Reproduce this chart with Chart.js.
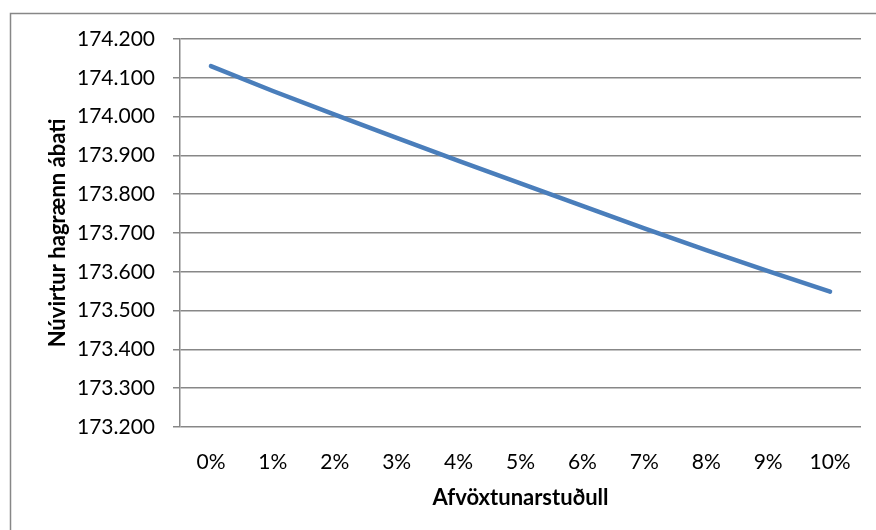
<!DOCTYPE html>
<html>
<head>
<meta charset="utf-8">
<style>
  html, body { margin: 0; padding: 0; background: #ffffff; }
  #wrap { width: 876px; height: 530px; position: relative; }
</style>
<script src="https://cdn.jsdelivr.net/npm/chart.js@4/dist/chart.umd.min.js"></script>
</head>
<body>
<div id="wrap"><canvas id="chart" width="876" height="530"></canvas></div>
<script>
// Discount rate categories (x axis)
const rates = ['0%', '1%', '2%', '3%', '4%', '5%', '6%', '7%', '8%', '9%', '10%'];
// Net present economic benefit for each discount rate
const presentValue = [174130, 174066, 174005, 173945, 173886, 173828, 173770, 173712, 173656, 173602, 173549];
// Value axis range and step
const yMin = 173200;
const yMax = 174200;
const yStep = 100;

const xTitle = 'Afvöxtunarstuðull';
const yTitle = 'Núvirtur hagrænn ábati';

const FONT = 'Lato, "Open Sans", "Liberation Sans", sans-serif';
const GRID = '#878787';

// Icelandic number style: dot as thousands separator
function fmt(v) {
  return Math.round(v).toString().replace(/\B(?=(\d{3})+(?!\d))/g, '.');
}

// Outer frame of the chart object
const framePlugin = {
  id: 'frame',
  beforeDraw(chart) {
    const ctx = chart.ctx;
    ctx.save();
    ctx.fillStyle = '#ffffff';
    ctx.fillRect(0, 0, chart.width, chart.height);
    ctx.strokeStyle = GRID;
    ctx.lineWidth = 1.5;
    ctx.strokeRect(10.5, 13.5, chart.width + 20, chart.height + 20);
    ctx.restore();
  }
};

new Chart(document.getElementById('chart'), {
  type: 'line',
  data: {
    labels: rates,
    datasets: [{
      data: presentValue,
      borderColor: '#4a7ebb',
      borderWidth: 4.5,
      borderCapStyle: 'round',
      borderJoinStyle: 'round',
      pointRadius: 0,
      tension: 0,
      fill: false
    }]
  },
  options: {
    responsive: false,
    animation: false,
    devicePixelRatio: 1,
    layout: { padding: { left: 0, top: 39, right: 15, bottom: 0 } },
    plugins: {
      legend: { display: false },
      tooltip: { enabled: false }
    },
    scales: {
      x: {
        offset: true,
        grid: { display: false },
        border: { display: false },
        ticks: {
          color: '#000000',
          padding: 15,
          font: { family: FONT, size: 21 },
          maxRotation: 0,
          autoSkip: false
        },
        title: {
          display: true,
          text: xTitle,
          color: '#000000',
          font: { family: FONT, size: 22, weight: 'bold' },
          padding: { top: 0, bottom: 19 }
        },
        afterFit(scale) { scale.height = 103; }
      },
      y: {
        min: yMin,
        max: yMax,
        grid: {
          color: GRID,
          lineWidth: 1.5,
          tickLength: 7,
          drawTicks: true
        },
        border: { display: true, color: GRID, width: 1.5 },
        ticks: {
          stepSize: yStep,
          color: '#000000',
          padding: 18,
          font: { family: FONT, size: 21 },
          callback: (v) => fmt(v)
        },
        title: {
          display: true,
          text: yTitle,
          color: '#000000',
          font: { family: FONT, size: 22, weight: 'bold' },
          padding: { top: 45, bottom: 0 }
        },
        afterFit(scale) { scale.width = 180; }
      }
    }
  },
  plugins: [framePlugin]
});
</script>
</body>
</html>
